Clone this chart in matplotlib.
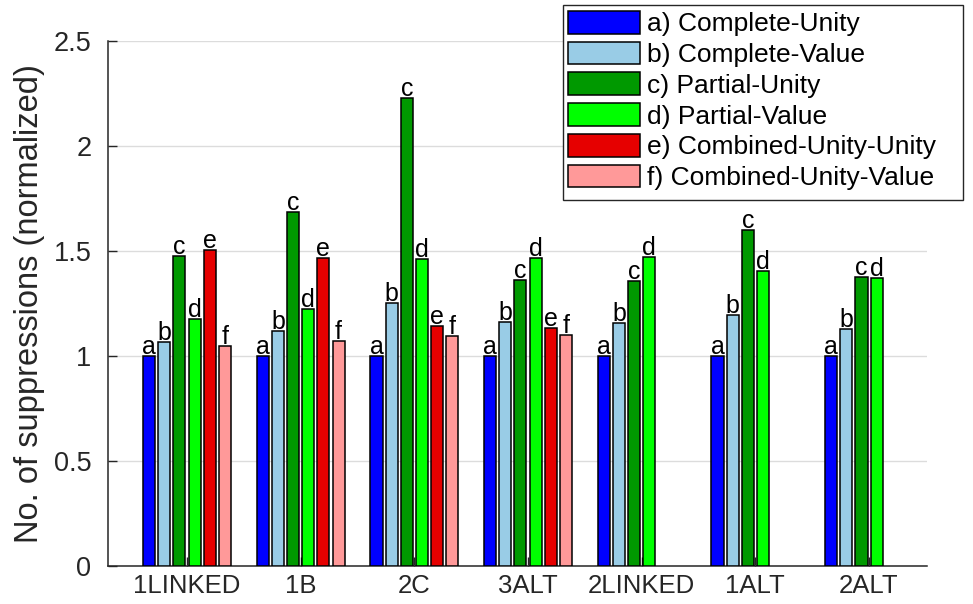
import numpy as np
import matplotlib
matplotlib.use("Agg")
import matplotlib.pyplot as plt
from matplotlib.patches import Rectangle

plt.rcParams['font.family'] = ['Liberation Sans', 'DejaVu Sans']

categories = ["1LINKED", "1B", "2C", "3ALT", "2LINKED", "1ALT", "2ALT"]
series_names = ["a) Complete-Unity", "b) Complete-Value", "c) Partial-Unity",
                "d) Partial-Value", "e) Combined-Unity-Unity", "f) Combined-Unity-Value"]
series_letters = ["a", "b", "c", "d", "e", "f"]
# None = not available for that group
a_vals = [1.0, 1.0, 1.0, 1.0, 1.0, 1.0, 1.0]
b_vals = [1.065, 1.12, 1.254, 1.16, 1.159, 1.195, 1.127]
c_vals = [1.478, 1.686, 2.23, 1.362, 1.359, 1.60, 1.375]
d_vals = [1.175, 1.225, 1.462, 1.465, 1.473, 1.405, 1.373]
e_vals = [1.505, 1.468, 1.143, 1.132, None, None, None]
f_vals = [1.049, 1.073, 1.095, 1.101, None, None, None]
series = [a_vals, b_vals, c_vals, d_vals, e_vals, f_vals]
colors = ["#0000ff", "#99cce6", "#009900", "#00ff00", "#e60000", "#ff9999"]

W, H = 973, 604
fig = plt.figure(figsize=(W/100, H/100), dpi=100)
ax = fig.add_axes([108/W, 1-566/H, (927-108)/W, 525/H])

x = np.arange(1, len(categories)+1)
n = len(series)
pitch = 0.8 / n
width = pitch * 0.8
handles = []
for i, (vals, col, name, let) in enumerate(zip(series, colors, series_names, series_letters)):
    xs = [xi + (i - (n-1)/2) * pitch for xi, v in zip(x, vals) if v is not None]
    hs = [v for v in vals if v is not None]
    bc = ax.bar(xs, hs, width=width, color=col, edgecolor='black', linewidth=1.1,
                label=name, zorder=3)
    handles.append(bc)
    for xx, hh in zip(xs, hs):
        ax.annotate(let, (xx, hh), xytext=(0, 1.5), textcoords='offset points',
                    ha='center', va='baseline', fontsize=18, color='black', zorder=4)

ax.set_xlim(0.305, 7.51)
ax.set_ylim(0, 2.5)
ax.set_yticks([0, 0.5, 1, 1.5, 2, 2.5])
ax.set_yticklabels(["0", "0.5", "1", "1.5", "2", "2.5"])
ax.set_xticks(x)
ax.set_xticklabels(categories)
ax.tick_params(axis='both', direction='in', length=6.5, width=1.0, colors='#262626',
               labelsize=19.5, labelcolor='#262626')
ax.tick_params(axis='y', pad=12)
ax.tick_params(axis='x', pad=6, labelsize=18.5)
ax.set_ylabel("No. of suppressions (normalized)", fontsize=23.5, color='#262626', labelpad=6)

for s in ['top', 'right']:
    ax.spines[s].set_visible(False)
for s in ['left', 'bottom']:
    ax.spines[s].set_color('#262626')
    ax.spines[s].set_linewidth(1.1)
ax.yaxis.grid(True, color='#dcdcdc', linewidth=1.0, zorder=0)
ax.set_axisbelow(True)

# legend frame (MATLAB-like box with extra right padding)
box = Rectangle((563/W, 1-200/H), 400/W, 195/H, transform=fig.transFigure,
                facecolor='white', edgecolor='#262626', linewidth=1.0, zorder=4.9)
fig.patches.append(box)
fs = 19
fs_px = fs * 100 / 72
leg = fig.legend(handles=handles, labels=series_names, loc='upper left',
                 bbox_to_anchor=(568/W, 1-11/H), bbox_transform=fig.transFigure,
                 fontsize=fs, frameon=False,
                 handlelength=72/fs_px, handleheight=0.95, labelspacing=0.2,
                 handletextpad=7/fs_px, borderpad=0, borderaxespad=0)
leg.set_zorder(5)

fig.savefig("out.png", dpi=100)
